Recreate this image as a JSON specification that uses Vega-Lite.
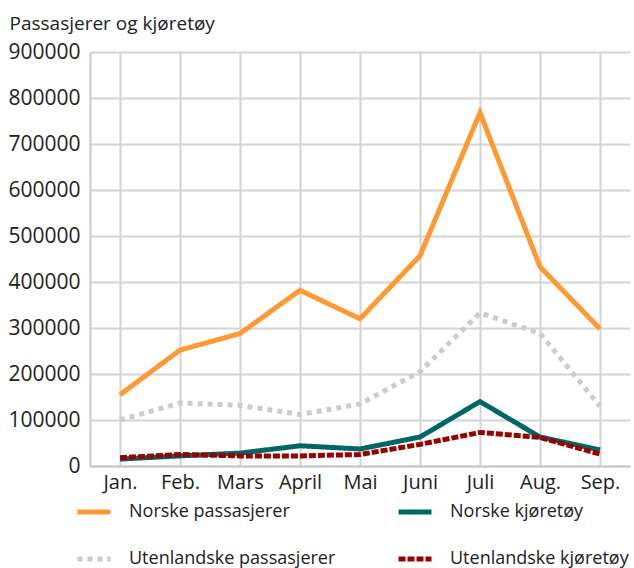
{
  "$schema": "https://vega.github.io/schema/vega-lite/v6.json",
  "autosize": {"type": "none"},
  "padding": {"left": 90, "top": 52, "right": 4, "bottom": 102},
  "width": 540,
  "height": 414,
  "background": "white",
  "config": {
    "view": {"stroke": null},
    "font": "Open Sans",
    "axis": {"labelFont": "Open Sans", "titleFont": "Open Sans", "labelColor": "#222", "titleColor": "#222"},
    "legend": {"labelFont": "Open Sans"}
  },
  "data": {
    "values": [
      {"m": "Jan.", "s": "Norske passasjerer", "v": 155000},
      {"m": "Feb.", "s": "Norske passasjerer", "v": 252000},
      {"m": "Mars", "s": "Norske passasjerer", "v": 288000},
      {"m": "April", "s": "Norske passasjerer", "v": 382000},
      {"m": "Mai", "s": "Norske passasjerer", "v": 320000},
      {"m": "Juni", "s": "Norske passasjerer", "v": 457000},
      {"m": "Juli", "s": "Norske passasjerer", "v": 768000},
      {"m": "Aug.", "s": "Norske passasjerer", "v": 433000},
      {"m": "Sep.", "s": "Norske passasjerer", "v": 298000},
      {"m": "Jan.", "s": "Norske kjøretøy", "v": 15000},
      {"m": "Feb.", "s": "Norske kjøretøy", "v": 22000},
      {"m": "Mars", "s": "Norske kjøretøy", "v": 28000},
      {"m": "April", "s": "Norske kjøretøy", "v": 44000},
      {"m": "Mai", "s": "Norske kjøretøy", "v": 37000},
      {"m": "Juni", "s": "Norske kjøretøy", "v": 63000},
      {"m": "Juli", "s": "Norske kjøretøy", "v": 140000},
      {"m": "Aug.", "s": "Norske kjøretøy", "v": 63000},
      {"m": "Sep.", "s": "Norske kjøretøy", "v": 35000},
      {"m": "Jan.", "s": "Utenlandske passasjerer", "v": 100000},
      {"m": "Feb.", "s": "Utenlandske passasjerer", "v": 137000},
      {"m": "Mars", "s": "Utenlandske passasjerer", "v": 132000},
      {"m": "April", "s": "Utenlandske passasjerer", "v": 112000},
      {"m": "Mai", "s": "Utenlandske passasjerer", "v": 135000},
      {"m": "Juni", "s": "Utenlandske passasjerer", "v": 205000},
      {"m": "Juli", "s": "Utenlandske passasjerer", "v": 333000},
      {"m": "Aug.", "s": "Utenlandske passasjerer", "v": 288000},
      {"m": "Sep.", "s": "Utenlandske passasjerer", "v": 130000},
      {"m": "Jan.", "s": "Utenlandske kjøretøy", "v": 18000},
      {"m": "Feb.", "s": "Utenlandske kjøretøy", "v": 25000},
      {"m": "Mars", "s": "Utenlandske kjøretøy", "v": 22000},
      {"m": "April", "s": "Utenlandske kjøretøy", "v": 22000},
      {"m": "Mai", "s": "Utenlandske kjøretøy", "v": 25000},
      {"m": "Juni", "s": "Utenlandske kjøretøy", "v": 47000},
      {"m": "Juli", "s": "Utenlandske kjøretøy", "v": 73000},
      {"m": "Aug.", "s": "Utenlandske kjøretøy", "v": 62000},
      {"m": "Sep.", "s": "Utenlandske kjøretøy", "v": 26000}
    ]
  },
  "mark": {"type": "line", "strokeWidth": 5, "strokeCap": "butt", "strokeJoin": "miter"},
  "encoding": {
    "x": {
      "field": "m", "type": "ordinal",
      "sort": ["Jan.", "Feb.", "Mars", "April", "Mai", "Juni", "Juli", "Aug.", "Sep."],
      "scale": {"type": "point", "padding": 0.5},
      "axis": {
        "title": null, "labelAngle": 0, "labelFontSize": 20, "labelPadding": 6,
        "ticks": false, "domainColor": "#c8c8c8", "domainWidth": 2,
        "grid": true, "gridColor": "#d4d4d4", "gridWidth": 2
      }
    },
    "y": {
      "field": "v", "type": "quantitative",
      "scale": {"domain": [0, 900000], "nice": false},
      "axis": {
        "values": [0, 100000, 200000, 300000, 400000, 500000, 600000, 700000, 800000, 900000],
        "format": "d", "labelFontSize": 21, "labelPadding": 10, "ticks": false,
        "domainColor": "#c8c8c8", "domainWidth": 2,
        "gridColor": "#d4d4d4", "gridWidth": 2,
        "title": "Passasjerer og kjøretøy", "titleAngle": 0, "titleAlign": "left",
        "titleBaseline": "alphabetic", "titleX": -81, "titleY": -23,
        "titleFontSize": 19, "titleFontWeight": "normal"
      }
    },
    "color": {
      "field": "s", "type": "nominal",
      "sort": ["Norske passasjerer", "Utenlandske passasjerer", "Norske kjøretøy", "Utenlandske kjøretøy"],
      "scale": {
        "domain": ["Norske passasjerer", "Utenlandske passasjerer", "Norske kjøretøy", "Utenlandske kjøretøy"],
        "range": ["#ff9933", "#cccccc", "#006666", "#990000"]
      },
      "legend": {
        "title": null, "orient": "none", "legendX": -15, "legendY": 441,
        "columns": 2, "symbolType": "stroke", "symbolSize": 1089, "symbolStrokeWidth": 5,
        "labelFontSize": 18, "labelOffset": 16, "labelLimit": 300, "columnPadding": 52, "rowPadding": 18,
        "labelColor": "#222"
      }
    },
    "strokeDash": {
      "field": "s", "type": "nominal",
      "sort": ["Norske passasjerer", "Utenlandske passasjerer", "Norske kjøretøy", "Utenlandske kjøretøy"],
      "scale": {
        "domain": ["Norske passasjerer", "Utenlandske passasjerer", "Norske kjøretøy", "Utenlandske kjøretøy"],
        "range": [[1, 0], [5, 5], [1, 0], [7, 2]]
      },
      "legend": {
        "title": null, "orient": "none", "legendX": -15, "legendY": 441,
        "columns": 2, "symbolType": "stroke", "symbolSize": 1089, "symbolStrokeWidth": 5,
        "labelFontSize": 18, "labelOffset": 16, "labelLimit": 300, "columnPadding": 52, "rowPadding": 18,
        "labelColor": "#222"
      }
    }
  }
}
